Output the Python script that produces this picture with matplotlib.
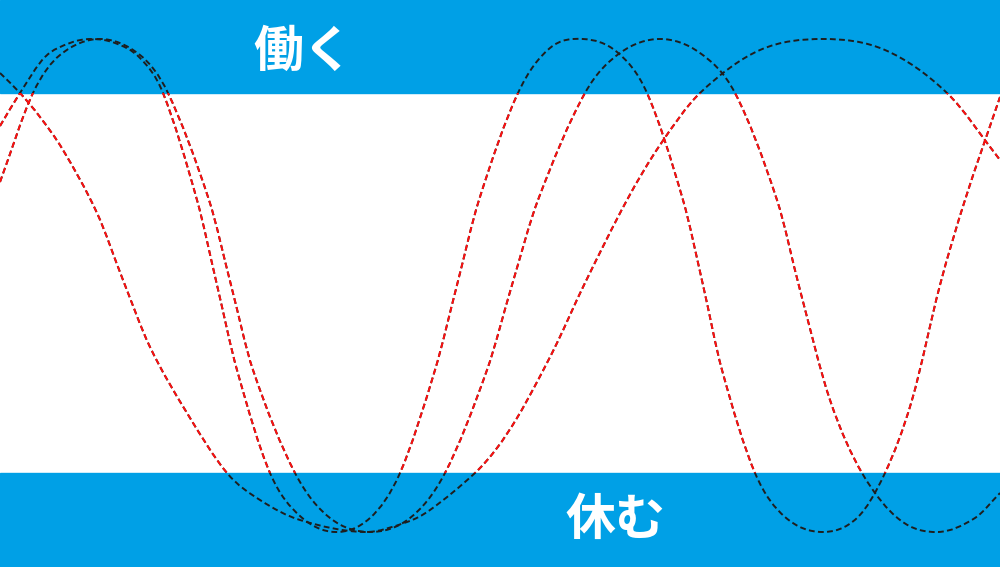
import matplotlib
matplotlib.use("Agg")
import matplotlib.pyplot as plt
from matplotlib.patches import Rectangle, PathPatch
from matplotlib.path import Path

plt.rcParams['font.family'] = ['Noto Sans CJK JP', 'DejaVu Sans']

#### DATA (pixel coords, y down) ####
fast_x = [0, 20, 45, 70, 91, 115, 140, 163, 197, 217, 237, 270, 300, 335,
          370, 400, 435, 457, 479, 518, 550, 583, 617, 647, 683,
          703, 722, 755, 785, 822, 857, 885, 912, 940, 965, 1000]
fast_y = [126, 93, 57, 43, 39, 43, 58, 93, 200, 285, 370, 473, 516, 532,
          518, 473, 370, 285, 200, 93, 48, 39, 52, 93, 200,
          285, 370, 473, 517, 532, 518, 473, 400, 285, 200, 97]

mid_x = [0, 33, 60, 100, 140, 168, 209, 231, 253, 295, 330, 370,
         410, 445, 487, 512, 538, 585, 620, 660, 700, 735,
         777, 800, 830, 862, 900, 938, 975, 1000]
mid_y = [182, 93, 55, 39, 55, 93, 200, 285, 370, 473, 518, 532,
         518, 473, 370, 285, 200, 93, 53, 39, 53, 93,
         200, 290, 400, 473, 520, 532, 518, 493]

slow_x = [0, 20, 40, 63, 97, 123, 150, 187, 227, 260, 300, 365, 407, 430,
          475, 497, 517, 537, 557, 584, 627, 660, 700, 760, 823, 885, 947, 1000]
slow_y = [73, 93, 117, 150, 213, 280, 347, 413, 473, 500, 520, 532, 522, 510,
          473, 448, 418, 382, 343, 285, 200, 145, 93, 50, 39, 50, 93, 160]

curves = [(fast_x, fast_y), (mid_x, mid_y), (slow_x, slow_y)]

top_label = '働く'
bottom_label = '休む'

BLUE = '#00a0e6'
band_top = 93
band_bottom = 473


def smooth_path(xs, ys):
    # cubic hermite through the read points, drawn as bezier segments
    n = len(xs)
    slopes = []
    for i in range(n):
        a = max(i - 1, 0)
        b = min(i + 1, n - 1)
        slopes.append((ys[b] - ys[a]) / (xs[b] - xs[a]))
    verts = [(xs[0], ys[0])]
    codes = [Path.MOVETO]
    for i in range(n - 1):
        h = (xs[i + 1] - xs[i]) / 3.0
        verts += [(xs[i] + h, ys[i] + slopes[i] * h),
                  (xs[i + 1] - h, ys[i + 1] - slopes[i + 1] * h),
                  (xs[i + 1], ys[i + 1])]
        codes += [Path.CURVE4] * 3
    return Path(verts, codes)


fig = plt.figure(figsize=(10, 5.67), dpi=100)
ax = fig.add_axes([0, 0, 1, 1])
ax.set_xlim(0, 1000)
ax.set_ylim(567, 0)
ax.axis('off')

# blue bands
ax.add_patch(Rectangle((0, 0), 1000, band_top, color=BLUE, zorder=1))
ax.add_patch(Rectangle((0, band_bottom), 1000, 567 - band_bottom, color=BLUE, zorder=1))

# black everywhere, red over the white middle
middle = Rectangle((0, band_top), 1000, band_bottom - band_top, transform=ax.transData)
for xs, ys in curves:
    p = smooth_path(xs, ys)
    ax.add_patch(PathPatch(p, fill=False, edgecolor='#1e1e1e', lw=1.4,
                           ls=(0, (3, 1.7)), zorder=3))
    red = ax.add_patch(PathPatch(p, fill=False, edgecolor='#ff0f0f', lw=1.4,
                                 ls=(0, (3, 1.7)), zorder=4))
    red.set_clip_path(middle)

ax.text(303, 52, top_label, color='white', fontsize=36, fontweight='bold',
        ha='center', va='center', zorder=5)
ax.text(615, 520, bottom_label, color='white', fontsize=36, fontweight='bold',
        ha='center', va='center', zorder=5)

fig.savefig('out.png', dpi=100)
